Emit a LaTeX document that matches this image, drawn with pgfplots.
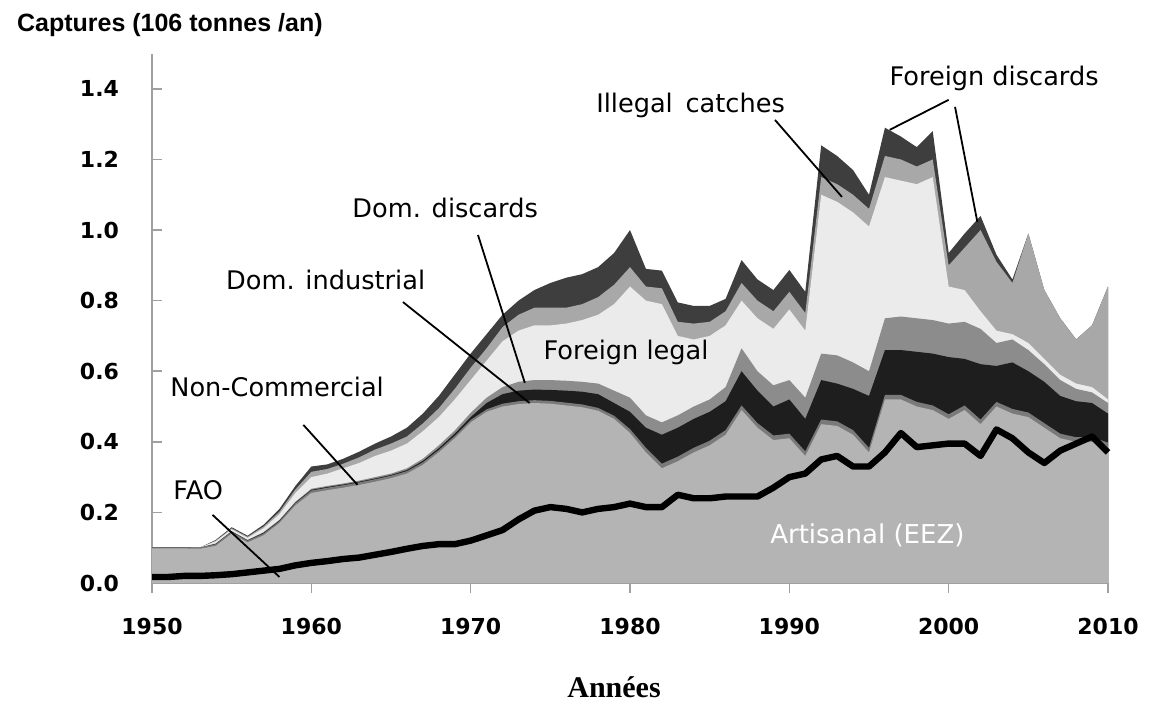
\documentclass[border=0pt]{standalone}
\usepackage{fontspec}
\setmainfont{DejaVu Sans}
\newfontfamily\arialf{Liberation Sans}
\newfontfamily\timesf{Liberation Serif}
\usepackage{pgfplots}
\usepackage{pgfplotstable}
\pgfplotsset{compat=1.18}

\definecolor{cArt}{HTML}{B4B4B4}
\definecolor{cNC}{HTML}{7A7A7A}
\definecolor{cInd}{HTML}{1E1E1E}
\definecolor{cDis}{HTML}{8C8C8C}
\definecolor{cFL}{HTML}{EBEBEB}
\definecolor{cIll}{HTML}{A8A8A8}
\definecolor{cFD}{HTML}{3E3E3E}
\definecolor{axgray}{HTML}{A0A0A0}

% cumulative tops: A artisanal, B non-commercial, C dom. industrial,
% D dom. discards, E foreign legal, F illegal, G foreign discards (total)
\pgfplotstableread{
yr   A     B     C     D     E     F     G     fao
1950 .098  .101  .101  .101  .101  .101  .101  .017
1951 .098  .101  .101  .101  .101  .101  .101  .017
1952 .098  .101  .101  .101  .101  .101  .101  .020
1953 .097  .100  .100  .100  .100  .100  .100  .020
1954 .105  .110  .111  .112  .118  .120  .122  .022
1955 .140  .145  .146  .147  .152  .155  .158  .025
1956 .115  .120  .121  .122  .128  .131  .134  .030
1957 .135  .140  .142  .144  .155  .160  .165  .035
1958 .170  .175  .177  .179  .195  .202  .210  .040
1959 .220  .226  .228  .230  .255  .265  .275  .050
1960 .255  .262  .264  .267  .300  .315  .330  .057
1961 .263  .270  .272  .275  .310  .323  .336  .062
1962 .270  .277  .279  .282  .325  .338  .352  .068
1963 .278  .285  .287  .290  .340  .356  .372  .072
1964 .287  .294  .296  .300  .360  .378  .395  .080
1965 .297  .304  .306  .310  .375  .395  .415  .088
1966 .310  .317  .320  .325  .395  .415  .440  .097
1967 .335  .342  .346  .352  .430  .452  .480  .105
1968 .370  .377  .382  .390  .470  .495  .530  .110
1969 .410  .417  .423  .432  .520  .550  .590  .110
1970 .455  .462  .470  .482  .575  .610  .650  .120
1971 .485  .492  .510  .525  .630  .665  .705  .135
1972 .500  .508  .535  .555  .685  .725  .760  .150
1973 .507  .515  .545  .570  .715  .760  .800  .180
1974 .510  .518  .548  .575  .730  .780  .830  .205
1975 .508  .516  .547  .575  .730  .780  .850  .215
1976 .503  .511  .545  .573  .735  .780  .865  .210
1977 .498  .506  .542  .570  .745  .790  .875  .200
1978 .488  .496  .535  .565  .760  .810  .895  .210
1979 .465  .474  .510  .545  .790  .845  .935  .215
1980 .425  .436  .485  .525  .840  .895  1.00  .225
1981 .370  .383  .440  .475  .800  .840  .890  .215
1982 .325  .338  .420  .455  .790  .835  .885  .215
1983 .345  .358  .440  .475  .700  .740  .795  .250
1984 .370  .383  .465  .500  .690  .735  .785  .240
1985 .390  .403  .485  .520  .700  .740  .785  .240
1986 .420  .433  .515  .555  .730  .770  .805  .245
1987 .490  .503  .600  .665  .800  .850  .915  .245
1988 .440  .453  .545  .600  .750  .800  .860  .245
1989 .405  .418  .500  .560  .720  .770  .830  .270
1990 .410  .423  .520  .575  .775  .825  .887  .300
1991 .360  .373  .465  .525  .715  .765  .825  .310
1992 .450  .463  .575  .650  1.10  1.15  1.24  .350
1993 .445  .458  .565  .645  1.08  1.13  1.21  .360
1994 .420  .433  .550  .625  1.05  1.10  1.17  .330
1995 .370  .383  .530  .600  1.01  1.06  1.10  .330
1996 .520  .533  .660  .750  1.15  1.21  1.29  .370
1997 .520  .533  .660  .755  1.14  1.20  1.265 .425
1998 .500  .513  .655  .750  1.13  1.18  1.235 .385
1999 .490  .503  .650  .745  1.15  1.20  1.28  .390
2000 .465  .478  .640  .735  .840  .900  .935  .395
2001 .490  .503  .635  .740  .830  .950  .990  .395
2002 .450  .463  .620  .720  .770  1.00  1.04  .360
2003 .500  .513  .615  .680  .715  .910  .930  .435
2004 .480  .493  .625  .690  .705  .850  .860  .410
2005 .470  .483  .600  .660  .680  .990  .990  .370
2006 .440  .453  .570  .620  .635  .830  .830  .340
2007 .410  .423  .530  .575  .590  .750  .750  .375
2008 .400  .413  .515  .550  .565  .690  .690  .395
2009 .400  .413  .510  .540  .555  .730  .730  .415
2010 .385  .398  .480  .510  .520  .840  .840  .370
}\catches

\newcommand{\lab}{\fontsize{12.8}{15}\selectfont}

\begin{document}
\begin{tikzpicture}
\path[use as bounding box] (0,0) rectangle (574.5pt,350.5pt);
\begin{axis}[
  at={(76pt,59pt)}, anchor=south west,
  scale only axis, width=478pt, height=264.7pt,
  xmin=1950, xmax=2010, ymin=0, ymax=1.5,
  axis lines=left,
  axis line style={-, draw=axgray, line width=0.8pt},
  xtick={1950,1960,...,2010},
  ytick={0,0.2,0.4,0.6,0.8,1.0,1.2,1.4},
  xtick align=outside, ytick align=inside, major tick length=5pt,
  tick style={draw=axgray, line width=0.8pt},
  tick label style={font=\fontsize{11}{13}\selectfont\bfseries},
  /pgf/number format/assume math mode=true,
  xticklabel style={/pgf/number format/1000 sep={}, yshift=-9pt},
  yticklabel style={/pgf/number format/fixed, /pgf/number format/fixed zerofill,
    /pgf/number format/precision=1, xshift=-13pt},
  clip=false,
]
\addplot[fill=cFD, draw=none] table[x=yr, y=G] {\catches} \closedcycle;
\addplot[fill=cIll, draw=none] table[x=yr, y=F] {\catches} \closedcycle;
\addplot[fill=cFL, draw=none] table[x=yr, y=E] {\catches} \closedcycle;
\addplot[fill=cDis, draw=none] table[x=yr, y=D] {\catches} \closedcycle;
\addplot[fill=cInd, draw=none] table[x=yr, y=C] {\catches} \closedcycle;
\addplot[fill=cNC, draw=none] table[x=yr, y=B] {\catches} \closedcycle;
\addplot[fill=cArt, draw=none] table[x=yr, y=A] {\catches} \closedcycle;
\addplot[black, line width=3.2pt, line join=round] table[x=yr, y=fao] {\catches};

% labels and leader lines
\node[font=\lab] at (axis cs:1983.8,1.354) {Illegal\hspace{0.5em}catches};
\draw[line width=0.9pt] (axis cs:1989.1,1.312) -- (axis cs:1993.3,1.094);
\node[font=\lab] at (axis cs:2002.85,1.431) {Foreign discards};
\draw[line width=0.9pt] (axis cs:2000.0,1.369) -- (axis cs:1996.3,1.284);
\draw[line width=0.9pt] (axis cs:2000.4,1.349) -- (axis cs:2001.8,1.023);
\node[font=\lab] at (axis cs:1968.4,1.063) {Dom. discards};
\draw[line width=0.9pt] (axis cs:1970.46,0.986) -- (axis cs:1973.4,0.567);
\node[font=\lab] at (axis cs:1960.9,0.859) {Dom. industrial};
\draw[line width=0.9pt] (axis cs:1965.75,0.796) -- (axis cs:1973.7,0.510);
\node[font=\lab] at (axis cs:1979.75,0.652) {Foreign legal};
\node[font=\lab] at (axis cs:1957.85,0.555) {Non-Commercial};
\draw[line width=0.9pt] (axis cs:1959.5,0.448) -- (axis cs:1962.9,0.278);
\node[font=\lab] at (axis cs:1952.9,0.264) {FAO};
\draw[line width=0.9pt] (axis cs:1953.8,0.193) -- (axis cs:1958.0,0.017);
\node[font=\fontsize{13}{15}\selectfont, text=white] at (axis cs:1994.9,0.136) {Artisanal (EEZ)};
\end{axis}
\node[anchor=west, font=\arialf\bfseries\fontsize{12.5}{15}\selectfont] at (5pt,338pt) {Captures (106 tonnes /an)};
\node[anchor=base, font=\timesf\bfseries\fontsize{15}{18}\selectfont] at (307pt,2pt) {Années};
\end{tikzpicture}
\end{document}
